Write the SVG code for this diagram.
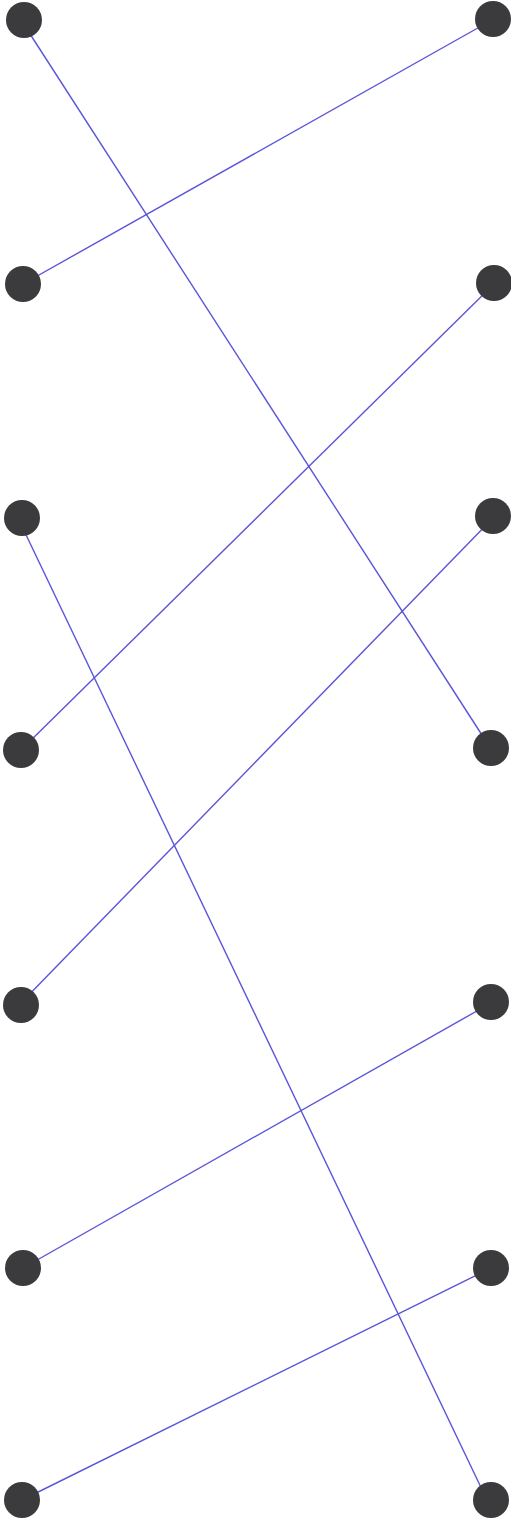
<svg xmlns="http://www.w3.org/2000/svg" width="511" height="1519" viewBox="0 0 511 1519">
<style>
.e{stroke:#5a55d8;stroke-width:1.4;fill:none}
.n{fill:#3b3b3d}
</style>
<rect width="511" height="1519" fill="#ffffff"/>
<g id="connectors">
<line class="e" x1="21" y1="20" x2="491" y2="749"/>
<line class="e" x1="23" y1="284" x2="492" y2="20"/>
<line class="e" x1="18" y1="518" x2="487" y2="1500"/>
<line class="e" x1="21" y1="750" x2="494" y2="284"/>
<line class="e" x1="19" y1="1005" x2="494" y2="517"/>
<line class="e" x1="23" y1="1268" x2="491" y2="1003"/>
<line class="e" x1="22" y1="1500" x2="491" y2="1268"/>
</g>
<g id="L1"><circle class="n" cx="24" cy="20" r="18"/></g>
<g id="L2"><circle class="n" cx="23" cy="284" r="18"/></g>
<g id="L3"><circle class="n" cx="22" cy="518" r="18"/></g>
<g id="L4"><circle class="n" cx="21" cy="750" r="18"/></g>
<g id="L5"><circle class="n" cx="21" cy="1005" r="18"/></g>
<g id="L6"><circle class="n" cx="23" cy="1268" r="18"/></g>
<g id="L7"><circle class="n" cx="22" cy="1500" r="18"/></g>
<g id="R1"><circle class="n" cx="493" cy="19" r="18"/></g>
<g id="R2"><circle class="n" cx="494" cy="283" r="18"/></g>
<g id="R3"><circle class="n" cx="493" cy="516" r="18"/></g>
<g id="R4"><circle class="n" cx="491" cy="748" r="18"/></g>
<g id="R5"><circle class="n" cx="491" cy="1002" r="18"/></g>
<g id="R6"><circle class="n" cx="491" cy="1268" r="18"/></g>
<g id="R7"><circle class="n" cx="491" cy="1500" r="18"/></g>
</svg>
